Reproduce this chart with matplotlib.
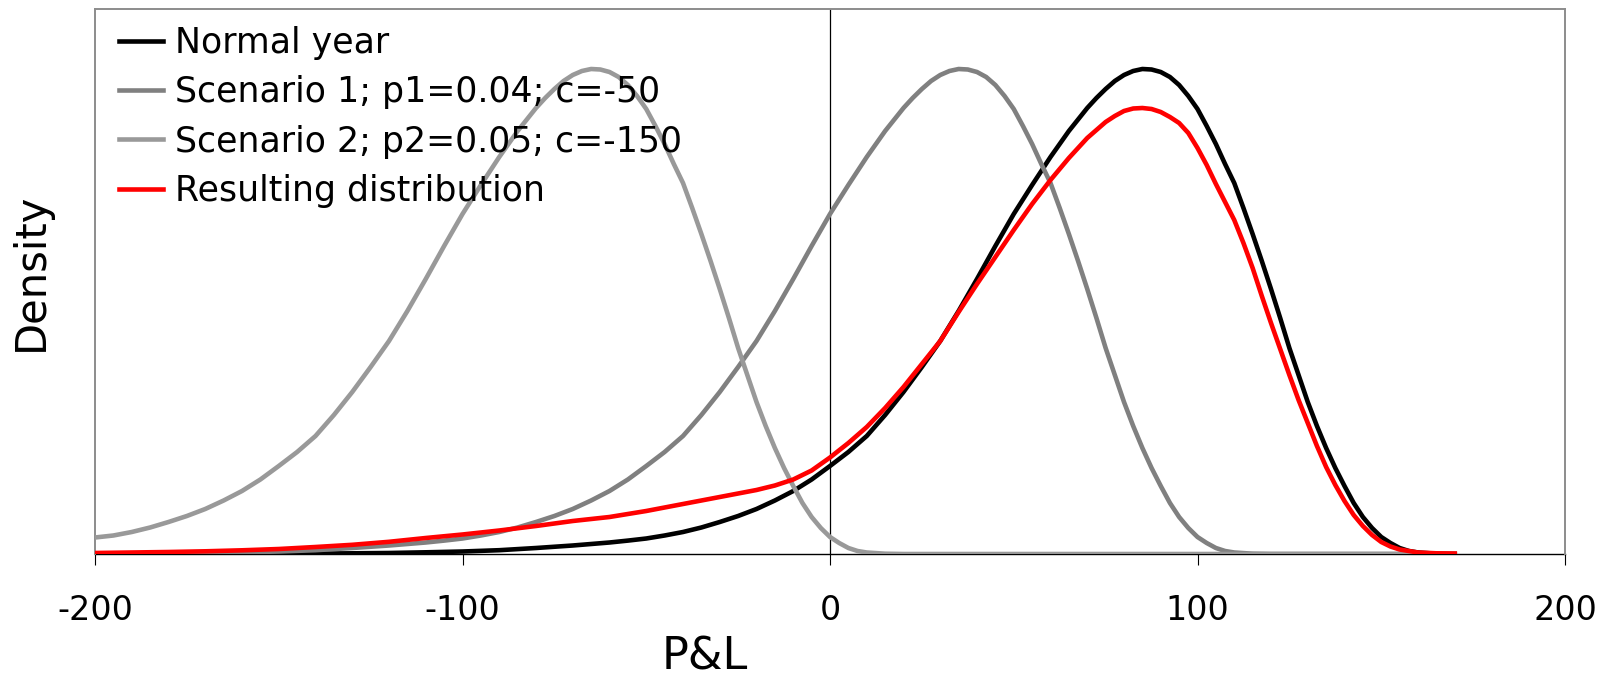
import matplotlib
matplotlib.use("Agg")
import matplotlib.pyplot as plt

plt.rcParams['font.family'] = ['DejaVu Sans']
plt.rcParams['axes.unicode_minus'] = False

# ---- data (density in arbitrary units) ----
normal_x = [-200, -180, -160, -140, -130, -120, -110, -100, -90, -80, -70, -60, -55,
            -50, -45, -40, -35, -30, -25, -20, -15, -10, -5, 0, 5, 10, 15, 20, 25, 30,
            35, 40, 45, 50, 55, 60, 65, 70, 72.5, 75, 77.5, 80, 82.5, 85, 87.5, 90,
            92.5, 95, 97.5, 100, 102.5, 105, 107.5, 110, 112.5, 115, 117.5, 120, 122.5,
            125, 127.5, 130, 132.5, 135, 137.5, 140, 142.5, 145, 147.5, 150, 152.5,
            155, 157.5, 160, 165, 170]
normal_y = [0, 0, 0.1, 0.4, 0.7, 1, 1.7, 2.5, 3.8, 6, 8.5, 11.5, 13.4,
            15.5, 18.5, 22, 26.5, 32, 38, 45, 53.5, 63, 74.5, 88, 102, 118, 139, 162,
            187, 213, 243, 275, 308, 340, 369, 397, 423, 446, 456, 465, 473, 479, 483,
            485, 484.5, 482, 477, 469, 458, 445, 428, 410, 390, 371, 346, 320, 293, 265,
            236, 206, 179, 152, 128, 106, 86, 68, 51, 37, 26, 17, 11, 6, 3, 1.5, 0.3, 0]

s1_x = [-200, -190, -180, -170, -160, -150, -140, -130, -120, -110, -105,
        -100, -95, -90, -85, -80, -75, -70, -65, -60, -55, -50, -45, -40, -35, -30,
        -25, -20, -15, -10, -5, 0, 5, 10, 15, 20, 22.5, 25, 27.5, 30, 32.5, 35, 37.5,
        40, 42.5, 45, 47.5, 50, 52.5, 55, 57.5, 60, 62.5, 65, 67.5, 70, 72.5, 75, 77.5,
        80, 82.5, 85, 87.5, 90, 92.5, 95, 97.5, 100, 102.5, 105, 107.5, 110, 115, 120, 170]
s1_y = [0.1, 0.4, 0.7, 1, 1.7, 2.5, 3.8, 6, 8.5, 11.5, 13.4,
        15.5, 18.5, 22, 26.5, 32, 38, 45, 53.5, 63, 74.5, 88, 102, 118, 139, 162,
        187, 213, 243, 275, 308, 340, 369, 397, 423, 446, 456, 465, 473, 479, 483,
        485, 484.5, 482, 477, 469, 458, 445, 428, 410, 390, 371, 346, 320, 293, 265,
        236, 206, 179, 152, 128, 106, 86, 68, 51, 37, 26, 17, 11, 6, 3, 1.5, 0.3, 0, 0]

s2_x = [-200, -195, -190, -185, -180, -175, -170, -165, -160, -155, -150, -145, -140,
        -135, -130, -125, -120, -115, -110, -105, -100, -95, -90, -85, -80, -77.5, -75,
        -72.5, -70, -67.5, -65, -62.5, -60, -57.5, -55, -52.5, -50, -47.5, -45, -42.5,
        -40, -37.5, -35, -32.5, -30, -27.5, -25, -22.5, -20, -17.5, -15, -12.5, -10,
        -7.5, -5, -2.5, 0, 2.5, 5, 7.5, 10, 15, 20, 170]
s2_y = [16.5, 18.5, 22, 26.5, 32, 38, 45, 53.5, 63, 74.5, 88, 102, 118, 139, 162,
        187, 213, 243, 275, 308, 340, 369, 397, 423, 446, 456, 465, 473, 479, 483,
        485, 484.5, 482, 477, 469, 458, 445, 428, 410, 390, 371, 346, 320, 293, 265,
        236, 206, 179, 152, 128, 106, 86, 68, 51, 37, 26, 17, 11, 6, 3, 1.5, 0.3, 0, 0]

res_x = [-200, -190, -180, -170, -160, -150, -140, -130, -120, -110, -100, -90, -80,
         -70, -60, -50, -45, -40, -35, -30, -25, -20, -15, -10, -5, 0, 5, 10, 15, 20,
         25, 30, 35, 40, 45, 50, 55, 60, 65, 70, 72.5, 75, 77.5, 80, 82.5, 85, 87.5,
         90, 92.5, 95, 97.5, 100, 102.5, 105, 107.5, 110, 112.5, 115, 117.5, 120,
         122.5, 125, 127.5, 130, 132.5, 135, 137.5, 140, 142.5, 145, 147.5, 150, 152.5,
         155, 157.5, 160, 165, 170]
res_y = [1, 1.5, 2, 2.7, 3.7, 5, 7, 9.2, 12.2, 16, 19.5, 23.5, 28,
         33, 37, 43, 46.5, 50, 53.5, 57, 60.5, 64, 68.5, 74.5, 83.5, 96.5, 111, 127,
         146, 167, 190, 213, 242, 270, 297, 324, 350, 374, 396, 416, 424, 432, 438,
         443, 445.5, 446, 445, 442, 437, 431, 421, 406, 389, 370, 352, 334, 311, 286,
         258, 231, 205, 179, 154, 131, 108, 87, 69, 53, 39, 28, 19, 12, 7.5,
         4.5, 3, 1.5, 0.7, 0.5]

labels = ["Normal year", "Scenario 1; p1=0.04; c=-50",
          "Scenario 2; p2=0.05; c=-150", "Resulting distribution"]
xticks = [-200, -100, 0, 100, 200]

W, H = 1608, 676
fig = plt.figure(figsize=(W / 100, H / 100), dpi=100)
ax = fig.add_axes([95 / W, 1 - 554 / H, (1565 - 95) / W, (554 - 9) / H])

ax.axvline(0, color='black', lw=0.9, zorder=1)
lw = 3.3
ax.plot(normal_x, normal_y, color='black', lw=lw, label=labels[0], zorder=3)
ax.plot(s1_x, s1_y, color='#808080', lw=lw, label=labels[1], zorder=4)
ax.plot(s2_x, s2_y, color='#999999', lw=lw, label=labels[2], zorder=5)
ax.plot(res_x, res_y, color='#ff0000', lw=lw, label=labels[3], zorder=6)

ax.set_xlim(-200, 200)
ax.set_ylim(0, 545)
ax.set_xticks(xticks)
ax.set_xticklabels([str(v) for v in xticks])
ax.set_yticks([])
ax.tick_params(axis='x', direction='out', length=8, width=0.8, color='black',
               labelsize=24, pad=21)

for side in ['top', 'right', 'left']:
    ax.spines[side].set_color('#8c8c8c')
    ax.spines[side].set_linewidth(1.4)
ax.spines['bottom'].set_color('black')
ax.spines['bottom'].set_linewidth(1.0)
ax.spines['bottom'].set_zorder(2)

ax.set_xlabel("P&L", fontsize=32)
ax.xaxis.set_label_coords((705 - 95) / (1565 - 95), -(670 - 554) / (554 - 9), transform=ax.transAxes)
ax.xaxis.label.set_va('baseline')
ax.set_ylabel("Density", fontsize=30)
ax.yaxis.set_label_coords(-(95 - 43) / (1565 - 95), (554 - 272) / (554 - 9), transform=ax.transAxes)
ax.yaxis.label.set_va('baseline')

leg = ax.legend(loc='upper left', bbox_to_anchor=(119 / W, 1 - 26 / H),
                bbox_transform=fig.transFigure, frameon=False, fontsize=25,
                handlelength=1.27, handletextpad=0.35, labelspacing=0.44,
                borderpad=0, borderaxespad=0)
for h in leg.get_lines():
    h.set_linewidth(3.3)

fig.savefig("out.png", dpi=100)
